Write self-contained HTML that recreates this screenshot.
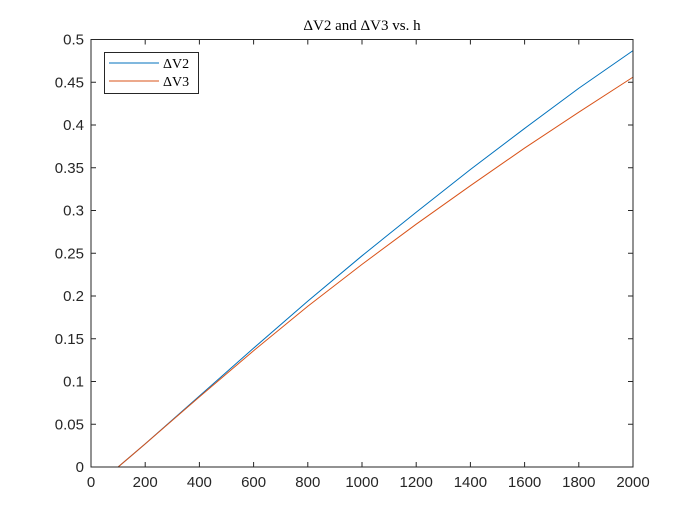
<!DOCTYPE html>
<html><head><meta charset="utf-8"><style>
body{margin:0;background:#fff;}
svg{display:block;font-family:"Liberation Sans",sans-serif;}
</style></head><body>
<svg id="chart" width="700" height="525" viewBox="0 0 700 525">
<rect width="700" height="525" fill="#fff"/>
<text x="362" y="30" text-anchor="middle" font-family="Liberation Serif, serif" font-size="15" fill="#000">ΔV2 and ΔV3 vs. h</text>
<g id="grid"></g>
<g id="series"></g>
<rect x="91" y="39.5" width="542" height="427.5" fill="none" stroke="#262626" stroke-width="1"/>
<g>
<rect x="104.5" y="52.5" width="94" height="41" fill="#fff" stroke="#262626"/>
<line x1="109" y1="63" x2="159" y2="63" stroke="#0072BD"/>
<text x="163" y="68" font-family="Liberation Serif, serif" font-size="14">ΔV2</text>
<line x1="109" y1="81" x2="159" y2="81" stroke="#D95319"/>
<text x="163" y="86" font-family="Liberation Serif, serif" font-size="14">ΔV3</text>
</g>
</svg>
<script>
const hValues=[100,200,400,600,800,1000,1200,1400,1600,1800,2000];
const dv2Values=[0,0.027,0.083,0.139,0.194,0.247,0.298,0.348,0.396,0.443,0.487];
const dv3Values=[0,0.027,0.082,0.136,0.188,0.237,0.284,0.329,0.373,0.415,0.456];
const xTicks=[0,200,400,600,800,1000,1200,1400,1600,1800,2000];
const yTicks=[0,0.05,0.1,0.15,0.2,0.25,0.3,0.35,0.4,0.45,0.5];
const NS="http://www.w3.org/2000/svg";
const L=91,R=633,T=39.5,B=467;
const xs=v=>L+(v/2000)*(R-L);
const ys=v=>B-(v/0.5)*(B-T);
const g=document.getElementById('grid'),s=document.getElementById('series');
function mk(t,a,p){const e=document.createElementNS(NS,t);for(const k in a)e.setAttribute(k,a[k]);p.appendChild(e);return e;}
xTicks.forEach(v=>{const x=xs(v);
const t1=mk('line',{x1:x,x2:x,y1:B,y2:B-5,stroke:'#262626'},g);


const t2=mk('line',{x1:x,x2:x,y1:T,y2:T+5,stroke:'#262626'},g);


const tx=mk('text',{x:x,y:B+20,'text-anchor':'middle','font-size':'15',fill:'#262626'},g);tx.textContent=String(v);

});
yTicks.forEach(v=>{const y=ys(v);
const t1=mk('line',{x1:L,x2:L+5,y1:y,y2:y,stroke:'#262626'},g);


const t2=mk('line',{x1:R,x2:R-5,y1:y,y2:y,stroke:'#262626'},g);


const tx=mk('text',{x:L-7,y:y+5,'text-anchor':'end','font-size':'15',fill:'#262626'},g);tx.textContent=String(v);

});
function line(vals,col,name){
const d=hValues.map((h,i)=>(i?'L':'M')+xs(h).toFixed(2)+' '+ys(vals[i]).toFixed(2)).join(' ');
const p=mk('path',{d:d,fill:'none',stroke:col,'stroke-width':'1','stroke-linejoin':'round'},s);

}
line(dv2Values,'#0072BD','dv2-line');
line(dv3Values,'#D95319','dv3-line');
</script>
</body></html>
